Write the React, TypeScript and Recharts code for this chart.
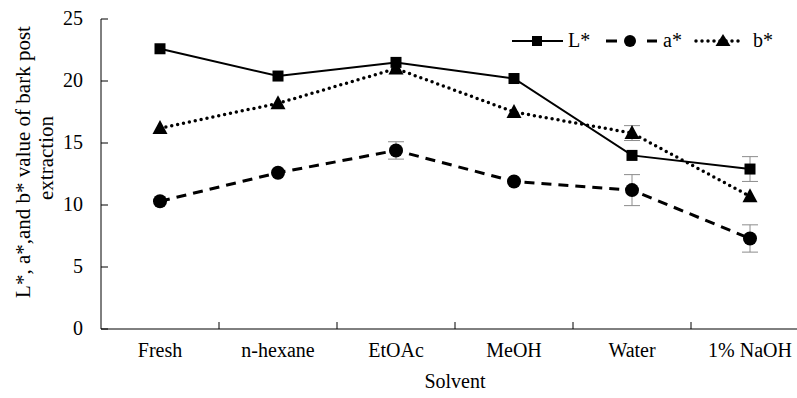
import React from 'react';
import { ComposedChart, Line, XAxis, YAxis, ErrorBar, Legend } from 'recharts';

const categories = ['Fresh', 'n-hexane', 'EtOAc', 'MeOH', 'Water', '1% NaOH'];
const lValues = [22.6, 20.4, 21.5, 20.2, 14.0, 12.9];
const aValues = [10.3, 12.6, 14.4, 11.9, 11.2, 7.3];
const bValues = [16.2, 18.2, 21.0, 17.5, 15.8, 10.7];
const lErrors = [0, 0, 0, 0, 0, 1.0];
const aErrors = [0, 0, 0.7, 0, 1.25, 1.1];
const bErrors = [0, 0, 0, 0, 0.6, 0];
const yTicks = [0, 5, 10, 15, 20, 25];

const data = categories.map((name, i) => ({
  name,
  L: lValues[i],
  a: aValues[i],
  b: bValues[i],
  lErr: lErrors[i],
  aErr: aErrors[i],
  bErr: bErrors[i],
}));

const FONT = '"Liberation Serif", "Times New Roman", serif';
const FS = 20;

const SquareDot = (p: any) => (
  <rect x={p.cx - 5.5} y={p.cy - 5.5} width={11} height={11} fill="#000" />
);
const CircleDot = (p: any) => <circle cx={p.cx} cy={p.cy} r={7} fill="#000" />;
const TriangleDot = (p: any) => (
  <polygon
    points={`${p.cx},${p.cy - 8} ${p.cx - 7.5},${p.cy + 6} ${p.cx + 7.5},${p.cy + 6}`}
    fill="#000"
  />
);

const YTick = (p: any) => (
  <g>
    <line x1={p.x} y1={p.y} x2={p.x + 7} y2={p.y} stroke="#000" strokeWidth={1} />
    <text x={p.x - 18} y={p.y + 6} textAnchor="end" fontFamily={FONT} fontSize={FS} fill="#000">
      {p.payload.value}
    </text>
  </g>
);

const XTick = (p: any) => {
  const count = p.visibleTicksCount || categories.length;
  const half = p.width ? p.width / count / 2 : p.payload?.offset || 0;
  const isLast = p.index === count - 1;
  return (
    <g>
      {!isLast && (
        <line x1={p.x + half} y1={p.y} x2={p.x + half} y2={p.y - 7} stroke="#000" strokeWidth={1} />
      )}
      <text x={p.x} y={p.y + 28} textAnchor="middle" fontFamily={FONT} fontSize={FS} fill="#000">
        {p.payload.value}
      </text>
    </g>
  );
};

const YLabel = () => (
  <g>
    <text
      transform="translate(30,162) rotate(-90)"
      textAnchor="middle"
      fontFamily={FONT}
      fontSize={21}
      fill="#000"
    >
      L*, a*,and b* value of bark post
    </text>
    <text
      transform="translate(53,158) rotate(-90)"
      textAnchor="middle"
      fontFamily={FONT}
      fontSize={21}
      fill="#000"
    >
      extraction
    </text>
  </g>
);

const LegendContent = () => (
  <svg width={290} height={32} style={{ display: 'block' }}>
    <g fontFamily={FONT} fontSize={20} fill="#000">
      <line x1={12} y1={16} x2={63} y2={16} stroke="#000" strokeWidth={2} />
      <rect x={32} y={11} width={10} height={10} fill="#000" />
      <text x={68} y={22}>L*</text>
      <line x1={106} y1={16} x2={117} y2={16} stroke="#000" strokeWidth={3} />
      <circle cx={130} cy={16} r={6} fill="#000" />
      <line x1={147} y1={16} x2={157} y2={16} stroke="#000" strokeWidth={3} />
      <text x={163} y={22}>a*</text>
      <line x1={196} y1={16} x2={244} y2={16} stroke="#000" strokeWidth={3.5} strokeDasharray="0 6" strokeLinecap="round" />
      <polygon points="223,9 215.5,21 230.5,21" fill="#000" />
      <text x={253} y={22}>b*</text>
    </g>
  </svg>
);

export default function App() {
  return (
    <div style={{ position: 'fixed', left: 0, top: 0, width: 797, height: 398, overflow: 'hidden', background: '#fff' }}>
      <ComposedChart
        width={830}
        height={398}
        data={data}
        margin={{ top: 19, right: 21, left: 0, bottom: 0 }}
      >
        <XAxis
          dataKey="name"
          scale="band"
          height={69}
          axisLine={{ stroke: '#000', strokeWidth: 1 }}
          tickLine={false}
          tickSize={0}
          tickMargin={0}
          tick={<XTick />}
          interval={0}
          label={{ value: 'Solvent', position: 'insideBottom', offset: 10, fontFamily: FONT, fontSize: FS, fill: '#000' }}
        />
        <YAxis
          domain={[0, 25]}
          ticks={yTicks}
          width={101}
          axisLine={{ stroke: '#000', strokeWidth: 1 }}
          tickLine={false}
          tickSize={0}
          tickMargin={0}
          tick={<YTick />}
          label={<YLabel />}
        />
        <Legend
          layout="horizontal"
          verticalAlign="middle"
          align="center"
          content={<LegendContent />}
          wrapperStyle={{ position: 'absolute', left: 500, top: 25, width: 290 }}
        />
        <Line
          dataKey="L"
          stroke="#000"
          strokeWidth={2}
          dot={<SquareDot />}
          activeDot={false}
          isAnimationActive={false}
        >
          <ErrorBar dataKey="lErr" width={8} stroke="#8c8c8c" strokeWidth={1} />
        </Line>
        <Line
          dataKey="a"
          stroke="#000"
          strokeWidth={3}
          strokeDasharray="10 7"
          dot={<CircleDot />}
          activeDot={false}
          isAnimationActive={false}
        >
          <ErrorBar dataKey="aErr" width={8} stroke="#8c8c8c" strokeWidth={1} />
        </Line>
        <Line
          dataKey="b"
          stroke="#000"
          strokeWidth={3.5}
          strokeDasharray="0 6"
          strokeLinecap="round"
          dot={<TriangleDot />}
          activeDot={false}
          isAnimationActive={false}
        >
          <ErrorBar dataKey="bErr" width={8} stroke="#8c8c8c" strokeWidth={1} />
        </Line>
      </ComposedChart>
    </div>
  );
}
